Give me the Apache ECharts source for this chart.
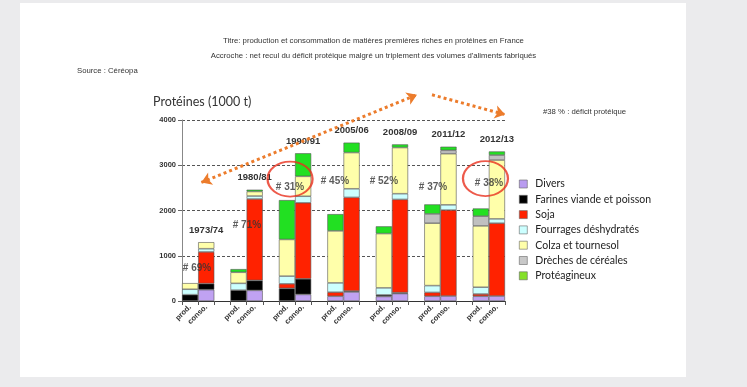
<!DOCTYPE html>
<html><head><meta charset="utf-8">
<script src="https://cdn.jsdelivr.net/npm/echarts@6/dist/echarts.min.js"></script>
<style>html,body{margin:0;padding:0;background:#ebebed}#c{width:747px;height:387px}</style>
</head><body><div id="c"></div>
<script>
// ---- data ----
const periods = ['1973/74','1980/81','1990/91','2005/06','2008/09','2011/12','2012/13'];
const deficitPct = [69, 71, 31, 45, 52, 37, 38];
const seriesNames = ['Divers','Farines viande et poisson','Soja','Fourrages déshydratés','Colza et tournesol','Drèches de céréales','Protéagineux'];
// production (1000 t proteins)
const prodDivers   = [0, 0, 0, 105, 100, 105, 105];
const prodFarines  = [140, 240, 280, 0, 35, 0, 0];
const prodSoja     = [0, 0, 100, 90, 0, 85, 50];
const prodFourrages= [120, 150, 170, 205, 155, 150, 150];
const prodColza    = [135, 245, 810, 1150, 1200, 1380, 1355];
const prodDreches  = [0, 0, 0, 0, 0, 205, 215];
const prodProtea   = [0, 70, 870, 370, 160, 210, 170];
// consumption
const consoDivers   = [250, 235, 145, 200, 165, 110, 110];
const consoFarines  = [135, 220, 345, 20, 20, 0, 0];
const consoSoja     = [700, 1800, 1680, 2070, 2060, 1900, 1610];
const consoFourrages= [70, 65, 145, 190, 126, 115, 95];
const consoColza    = [145, 100, 440, 800, 1020, 1130, 1300];
const consoDreches  = [0, 0, 0, 0, 0, 75, 110];
const consoProtea   = [0, 40, 510, 220, 70, 80, 80];
const barLabels = ['prod.', 'conso.'];
const yTicks = [0, 1000, 2000, 3000, 4000];
// annotation anchors (x in bar-slot units, y in 1000 t)
const deficitLabelX = [0.93, 4.02, 6.69, 9.47, 12.5, 15.54, 19.01];
const deficitLabelY = [720, 1674, 2523, 2656, 2656, 2517, 2599];
const circled = [[6.69, 2694], [18.79, 2705]];
const arrow1 = [[1.2, 2620], [14.55, 4557]];
const arrow2 = [[15.48, 4557], [20.0, 4120]];

// ---- build ----
const prodArr = [prodDivers, prodFarines, prodSoja, prodFourrages, prodColza, prodDreches, prodProtea];
const consoArr = [consoDivers, consoFarines, consoSoja, consoFourrages, consoColza, consoDreches, consoProtea];
const colors = ['#c0a2f2', '#000000', '#ff2200', '#ccffff', '#ffffaa', '#c0c0c0', '#22e022'];
const legendColors = ['#b99cf0', '#000000', '#ff2200', '#ccffff', '#ffffaa', '#c8c8c8', '#84e028'];

const cats = [];
periods.forEach((p, i) => {
  cats.push(barLabels[0], barLabels[1]);
  if (i < periods.length - 1) cats.push('');
});
function expand(prod, conso) {
  const out = [];
  periods.forEach((p, i) => {
    out.push(prod[i] ? prod[i] : null, conso[i] ? conso[i] : null);
    if (i < periods.length - 1) out.push(null);
  });
  return out;
}
const series = seriesNames.map((n, k) => ({
  name: n, type: 'bar', stack: 'all', xAxisIndex: 0, barWidth: '100%', barCategoryGap: '0%',
  data: expand(prodArr[k], consoArr[k]),
  itemStyle: { color: colors[k], borderColor: '#555', borderWidth: 0.6 }
}));
// year labels on top of conso stacks
const yearData = [];
periods.forEach((p, i) => {
  yearData.push(null, 0);
  if (i < periods.length - 1) yearData.push(null);
});
series.push({
  name: 'years', type: 'bar', stack: 'all', barWidth: '100%', data: yearData,
  itemStyle: { color: 'rgba(0,0,0,0)', borderWidth: 0 },
  label: { show: true, position: 'top', distance: 7,
    formatter: (p) => periods[Math.floor(p.dataIndex / 3)],
    fontFamily: 'Liberation Sans', fontWeight: 'bold', fontSize: 9.5, color: '#333' },
  silent: true
});
series.push({
  name: 'deficit', type: 'scatter', xAxisIndex: 1, symbolSize: 1,
  itemStyle: { color: 'rgba(0,0,0,0)' },
  data: deficitPct.map((v, i) => [deficitLabelX[i], deficitLabelY[i], v]),
  label: { show: true, position: 'inside', formatter: (p) => '# ' + p.value[2] + '%',
    fontFamily: 'Liberation Sans', fontWeight: 'bold', fontSize: 10, color: '#333' },
  silent: true, z: 5
});
series.push({
  name: 'circles', type: 'scatter', xAxisIndex: 1, symbol: 'circle', symbolSize: [45, 35],
  itemStyle: { color: 'rgba(0,0,0,0)', borderColor: '#e8311e', borderWidth: 2 },
  data: circled, silent: true, z: 6
});
const arrowStyle = { color: '#ec7c2c', width: 3, type: [3, 3], opacity: 1 };
series.push({
  name: 'arrow1', type: 'lines', coordinateSystem: 'cartesian2d', xAxisIndex: 1, clip: false,
  symbol: ['arrow', 'arrow'], symbolSize: 10,
  lineStyle: arrowStyle, data: [{ coords: arrow1 }], silent: true, z: 7
});
series.push({
  name: 'arrow2', type: 'lines', coordinateSystem: 'cartesian2d', xAxisIndex: 1, clip: false,
  symbol: ['none', 'arrow'], symbolSize: 10,
  lineStyle: arrowStyle, data: [{ coords: arrow2 }], silent: true, z: 7
});

const chart = echarts.init(document.getElementById('c'), null, { renderer: 'canvas' });
const smallFont = { fontFamily: 'Liberation Sans', color: '#333' };
chart.setOption({
  animation: false,
  backgroundColor: '#ebebed',
  graphic: [{ type: 'rect', shape: { x: 20, y: 3, width: 666, height: 374 }, style: { fill: '#ffffff' }, z: -10 }],
  title: [
    { text: 'Titre: production et consommation de matières premières riches en protéines en France', left: 'center', top: 37, textStyle: Object.assign({ fontSize: 7.75, fontWeight: 'normal' }, smallFont), padding: 0 },
    { text: "Accroche : net recul du déficit protéique malgré un triplement des volumes d'aliments fabriqués", left: 'center', top: 52, textStyle: Object.assign({ fontSize: 7.75, fontWeight: 'normal' }, smallFont), padding: 0 },
    { text: 'Source : Céréopa', left: 77, top: 67, textStyle: Object.assign({ fontSize: 7.75, fontWeight: 'normal' }, smallFont), padding: 0 },
    { text: 'Protéines (1000 t)', left: 153, top: 95, textStyle: { fontFamily: 'Lato', fontSize: 12.5, fontWeight: 'normal', color: '#333' }, padding: 0 },
    { text: '#38 % : déficit protéique', left: 543, top: 108, textStyle: Object.assign({ fontSize: 7.75, fontWeight: 'normal' }, smallFont), padding: 0 }
  ],
  legend: {
    orient: 'vertical', left: 519, top: 178, itemWidth: 8, itemHeight: 8, itemGap: 3.3,
    icon: 'rect', selectedMode: false, padding: 0,
    data: seriesNames.map((n, k) => ({ name: n, itemStyle: { color: legendColors[k], borderColor: '#666', borderWidth: 0.6 } })),
    textStyle: { fontFamily: 'Lato', fontSize: 10.5, lineHeight: 12, color: '#222', padding: [0, 0, 0, 3] }
  },
  grid: { left: 182, right: 242, top: 120, bottom: 86, containLabel: false },
  xAxis: [
    { type: 'category', data: cats, boundaryGap: true,
      axisLine: { lineStyle: { color: '#333', width: 1 } },
      axisTick: { show: true, interval: 0, length: 4, lineStyle: { color: '#555' } },
      axisLabel: { interval: 0, rotate: 45, margin: 5, fontFamily: 'Liberation Sans', fontWeight: 'bold', fontSize: 7.5, color: '#333' },
      splitLine: { show: false } },
    { type: 'value', min: 0, max: 20, show: false }
  ],
  yAxis: {
    type: 'value', min: 0, max: 4000, interval: 1000,
    axisLine: { show: true, lineStyle: { color: '#888' } },
    axisTick: { show: true, length: 4, lineStyle: { color: '#666' } },
    axisLabel: { fontFamily: 'Liberation Sans', fontWeight: 'bold', fontSize: 7.5, color: '#333', margin: 6,
      formatter: (v) => yTicks.includes(v) ? String(v) : '' },
    splitLine: { show: true, lineStyle: { color: '#555', type: [3, 2], width: 1 } }
  },
  series: series
});
</script>
</body></html>
